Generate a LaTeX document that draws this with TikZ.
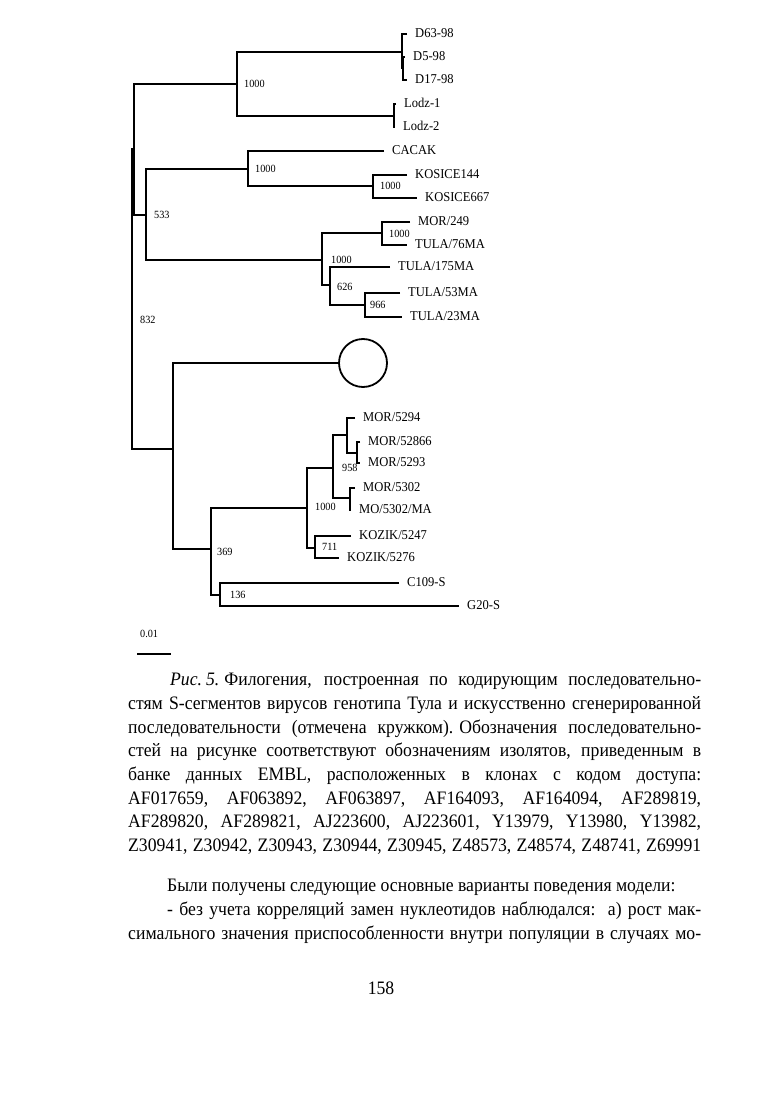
\documentclass[tikz,border=0pt]{standalone}
\usepackage{fontspec}
\setmainfont{Liberation Serif}[FakeStretch=0.93]
\usepackage{tikz}
\usetikzlibrary{positioning}
\tikzset{
  br/.style={line width=2.1pt},
  leaf/.style={anchor=west, inner xsep=8pt, inner ysep=0pt, text height=9pt, text depth=2pt, font=\fontsize{13.5}{14}\selectfont},
  boot/.style={anchor=west, inner sep=0pt, font=\fontsize{11}{12}\selectfont},
  para/.style={anchor=north west, inner sep=0pt, align=left, font=\fontsize{19}{23.7}\selectfont},
}

\begin{document}
\begin{tikzpicture}[x=1pt,y=-1pt]
    \useasboundingbox (0,0) rectangle (769,1099);
    \fill[white] (0,0) rectangle (769,1099);
    % inner nodes of the tree
    \coordinate (root)  at (132,298);
    \coordinate (n832)  at (134,149);
    \coordinate (nDL)   at (237,84);
    \coordinate (nD)    at (402,52);
    \coordinate (nD2)   at (403,68);
    \coordinate (nLodz) at (394,116);
    \coordinate (n533)  at (146,215);
    \coordinate (nCK)   at (248,169);
    \coordinate (nKos)  at (373,186);
    \coordinate (nTula) at (322,260);
    \coordinate (nMor)  at (382,233);
    \coordinate (n626)  at (330,285);
    \coordinate (n966)  at (365,305);
    \coordinate (nLow)  at (173,449);
    \coordinate (n369)  at (211,549);
    \coordinate (nM)    at (307,508);
    \coordinate (n958)  at (333,468);
    \coordinate (nM1)   at (347,435);
    \coordinate (nM3)   at (357,453);
    \coordinate (nM2)   at (350,498);
    \coordinate (nKoz)  at (315,548);
    \coordinate (n136)  at (220,595);
    % leaves
    \node[leaf] (d63)      at (407,34)  {D63-98};
    \node[leaf] (d5)       at (405,57)  {D5-98};
    \node[leaf] (d17)      at (407,80)  {D17-98};
    \node[leaf] (lodz1)    at (396,104) {Lodz-1};
    \node[leaf] (lodz2)    at (395,127) {Lodz-2};
    \node[leaf] (cacak)    at (384,151) {CACAK};
    \node[leaf] (kos144)   at (407,175) {KOSICE144};
    \node[leaf] (kos667)   at (417,198) {KOSICE667};
    \node[leaf] (mor249)   at (410,222) {MOR/249};
    \node[leaf] (tula76)   at (407,245) {TULA/76MA};
    \node[leaf] (tula175)  at (390,267) {TULA/175MA};
    \node[leaf] (tula53)   at (400,293) {TULA/53MA};
    \node[leaf] (tula23)   at (402,317) {TULA/23MA};
    \node[circle, draw, line width=1.8pt, minimum size=48pt, inner sep=0pt] (art) at (363,363) {};
    \node[leaf] (mor5294)  at (355,418) {MOR/5294};
    \node[leaf] (mor52866) at (360,442) {MOR/52866};
    \node[leaf] (mor5293)  at (360,463) {MOR/5293};
    \node[leaf] (mor5302)  at (355,488) {MOR/5302};
    \node[leaf] (mo5302ma) at (351,510) {MO/5302/MA};
    \node[leaf] (koz5247)  at (351,536) {KOZIK/5247};
    \node[leaf] (koz5276)  at (339,558) {KOZIK/5276};
    \node[leaf] (c109)     at (399,583) {C109-S};
    \node[leaf] (g20)      at (459,606) {G20-S};
    % branches
    \draw[br] (n832) -| (root) |- (nLow);
    \draw[br] (nDL) -| (n832) |- (n533);
    \draw[br] (nD) -| (nDL) |- (nLodz);
    \draw[br] (d63.west) -| (nD) |- (nD2);
    \draw[br] (d5.west) -| (nD2) |- (d17.west);
    \draw[br] (lodz1.west) -| (nLodz) |- (lodz2.west);
    \draw[br] (nCK) -| (n533) |- (nTula);
    \draw[br] (cacak.west) -| (nCK) |- (nKos);
    \draw[br] (kos144.west) -| (nKos) |- (kos667.west);
    \draw[br] (nMor) -| (nTula) |- (n626);
    \draw[br] (mor249.west) -| (nMor) |- (tula76.west);
    \draw[br] (tula175.west) -| (n626) |- (n966);
    \draw[br] (tula53.west) -| (n966) |- (tula23.west);
    \draw[br] (art.west) -| (nLow) |- (n369);
    \draw[br] (nM) -| (n369) |- (n136);
    \draw[br] (n958) -| (nM) |- (nKoz);
    \draw[br] (nM1) -| (n958) |- (nM2);
    \draw[br] (mor5294.west) -| (nM1) |- (nM3);
    \draw[br] (mor52866.west) -| (nM3) |- (mor5293.west);
    \draw[br] (mor5302.west) -| (nM2) |- (mo5302ma.west);
    \draw[br] (koz5247.west) -| (nKoz) |- (koz5276.west);
    \draw[br] (c109.west) -| (n136) |- (g20.west);
    % bootstrap values
    \node[boot] (bDL)   at (244,84)  {1000};
    \node[boot] (b832)  at (140,320) {832};
    \node[boot] (b533)  at (154,215) {533};
    \node[boot] (bCK)   at (255,169) {1000};
    \node[boot] (bKos)  at (380,186) {1000};
    \node[boot] (bMor)  at (389,234) {1000};
    \node[boot] (bTula) at (331,260) {1000};
    \node[boot] (b626)  at (337,287) {626};
    \node[boot] (b966)  at (370,305) {966};
    \node[boot] (b958)  at (342,468) {958};
    \node[boot] (bM)    at (315,507) {1000};
    \node[boot] (b711)  at (322,547) {711};
    \node[boot] (b369)  at (217,552) {369};
    \node[boot] (b136)  at (230,595) {136};
    % scale bar
    \node[boot] (scale) at (140,634) {0.01};
    \coordinate (sbL) at (137,654);
    \coordinate (sbR) at (171,654);
    \draw[line width=1.4pt] (sbL) -- (sbR);
    % caption and text of the page
    \node[para] (caption) at (128,673) {%
      \makebox[573pt][s]{\hspace*{42pt}\textit{Рис.}\hspace{4pt}\textit{5.}\hspace{5pt}Филогения, построенная по кодирующим последовательно-}\\
      \makebox[573pt][s]{стям S-сегментов вирусов генотипа Тула и искусственно сгенерированной}\\
      \makebox[573pt][s]{последовательности (отмечена кружком).\hspace{6pt}Обозначения последовательно-}\\
      \makebox[573pt][s]{стей на рисунке соответствуют обозначениям изолятов, приведенным в}\\
      \makebox[573pt][s]{банке данных EMBL, расположенных в клонах с кодом доступа:}\\
      \makebox[573pt][s]{AF017659, AF063892, AF063897, AF164093, AF164094, AF289819,}\\
      \makebox[573pt][s]{AF289820, AF289821, AJ223600, AJ223601, Y13979, Y13980, Y13982,}\\
      \makebox[573pt][s]{Z30941, Z30942, Z30943, Z30944, Z30945, Z48573, Z48574, Z48741, Z69991}};
    \node[para] (body) at (128,879) {%
      \makebox[573pt][l]{\hspace*{39pt}Были получены следующие основные варианты поведения модели:}\\
      \makebox[573pt][s]{\hspace*{39pt}- без учета корреляций замен нуклеотидов наблюдался:\ \ а) рост мак-}\\
      \makebox[573pt][s]{симального значения приспособленности внутри популяции в случаях мо-}};
    \node[para, anchor=center] (page) at (381,988) {158};
\end{tikzpicture}
\end{document}
